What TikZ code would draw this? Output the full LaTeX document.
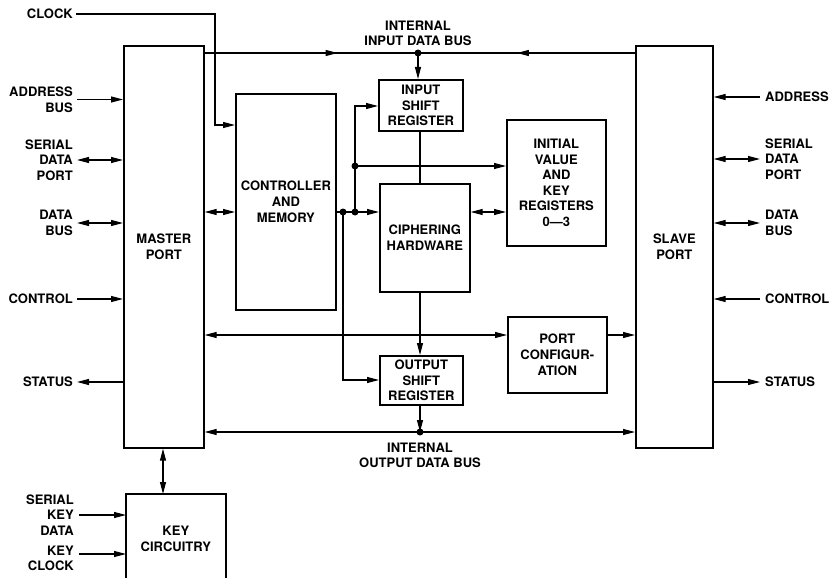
\documentclass[tikz,border=0pt]{standalone}
\usepackage{fontspec}
\setmainfont{TeX Gyre Heros}
\usetikzlibrary{arrows.meta,decorations.markings}
\tikzset{
  arr/.tip={Triangle[length=12pt,width=6pt]},
  box/.style={draw,line width=1.7pt,inner sep=0pt,anchor=north west,align=center,font=\fontsize{13}{15.6}\selectfont\bfseries},
  lbl/.style={inner sep=0pt,font=\fontsize{13}{15.6}\selectfont\bfseries},
  conn/.style={line width=1.1pt},
  dot/.style={circle,fill,inner sep=0pt,minimum size=7pt},
  midarr/.style={postaction={decorate},decoration={markings,mark=at position #1 with {\arrow{arr}}}}
}
\begin{document}
\begin{tikzpicture}[x=1pt,y=-1pt]
\useasboundingbox (0,0) rectangle (831,578);
% boxes
\node[box,minimum width=80pt,minimum height=402pt] (mp) at (123,45) {MASTER\\PORT};
\node[box,minimum width=77pt,minimum height=402pt] (sp) at (635,45) {SLAVE\\PORT};
\node[box,minimum width=100pt,minimum height=216pt] (cm) at (235,93) {CONTROLLER\\AND\\MEMORY};
\node[box,minimum width=84pt,minimum height=51pt] (isr) at (378,79) {INPUT\\SHIFT\\REGISTER};
\node[box,minimum width=99pt,minimum height=126pt] (iv) at (506,119) {INITIAL\\VALUE\\AND\\KEY\\REGISTERS\\0---3};
\node[box,minimum width=90pt,minimum height=108pt] (ch) at (379,183) {CIPHERING\\HARDWARE};
\node[box,minimum width=99pt,minimum height=76pt] (pc) at (507,316) {PORT\\CONFIGUR-\\ATION};
\node[box,minimum width=83pt,minimum height=49pt] (osr) at (379,355) {OUTPUT\\SHIFT\\REGISTER};
\node[box,draw=none,minimum width=98pt,minimum height=88pt] (kc) at (126,494) {KEY\\CIRCUITRY};
\coordinate (kcb) at (0,578);
\draw[line width=1.7pt] (kc.west |- kcb) -- (kc.north west) -- (kc.north east) -- (kc.east |- kcb);
% labels
\node[lbl,anchor=east] (clk) at (73,14) {CLOCK};
\node[lbl,anchor=east,align=right] (ab) at (73,99.5) {ADDRESS\\BUS};
\node[lbl,anchor=east,align=right] (sdp) at (73,160) {SERIAL\\DATA\\PORT};
\node[lbl,anchor=east,align=right] (db) at (73,223) {DATA\\BUS};
\node[lbl,anchor=east] (ctl) at (73,299) {CONTROL};
\node[lbl,anchor=east] (st) at (73,382) {STATUS};
\node[lbl,anchor=east,align=right] (skd) at (74,515) {SERIAL\\KEY\\DATA};
\node[lbl,anchor=east,align=right] (kck) at (74,558.5) {KEY\\CLOCK};
\node[lbl,anchor=west] (ra) at (765,97) {ADDRESS};
\node[lbl,anchor=west,align=left] (rsdp) at (765,159) {SERIAL\\DATA\\PORT};
\node[lbl,anchor=west,align=left] (rdb) at (765,223) {DATA\\BUS};
\node[lbl,anchor=west] (rctl) at (765,299) {CONTROL};
\node[lbl,anchor=west] (rst) at (765,382) {STATUS};
\node[lbl,align=center] (ibl) at (418,33.5) {INTERNAL\\INPUT DATA BUS};
\node[lbl,align=center] (obl) at (420,455.5) {INTERNAL\\OUTPUT DATA BUS};
% coordinates
\coordinate (ib) at (418,53);
\coordinate (ob) at (420,432);
\coordinate (col) at (420,0);
\coordinate (ckt) at (215,125);
\coordinate (r1) at (0,212);
\coordinate (r2) at (0,335);
\coordinate (d1) at (343,212);
\coordinate (d2) at (355,212);
\coordinate (d3) at (355,166);
\coordinate (u1) at (355,106);
\coordinate (l1) at (343,380);
\coordinate (kx) at (163,0);
\coordinate (kca) at (0,515);
\coordinate (kcc) at (0,554);
% input bus
\draw[conn,midarr=0.623] (mp.east |- ib) -- (ib);
\draw[conn,midarr=0.544] (sp.west |- ib) -- (ib);
\draw[conn,-arr] (ib) -- (ib |- isr.north);
\node[dot] (ibd) at (ib) {};
% clock
\draw[conn,-arr] ([xshift=3pt]clk.east) -| (ckt) -- (cm.west |- ckt);
% controller connections
\draw[conn,arr-arr] (mp.east |- r1) -- (cm.west |- r1);
\draw[conn,-arr] (cm.east |- r1) -- (ch.west |- r1);
\draw[conn,-arr] (d2) -- (u1) -- (isr.west |- u1);
\draw[conn,-arr] (d3) -- (iv.west |- d3);
\draw[conn,-arr] (d1) -- (l1) -- (osr.west |- l1);
\node[dot] (d1n) at (d1) {};
\node[dot] (d2n) at (d2) {};
\node[dot] (d3n) at (d3) {};
% cipher connections
\draw[conn] (col |- isr.south) -- (col |- ch.north);
\draw[conn,arr-arr] (ch.east |- r1) -- (iv.west |- r1);
\draw[conn,-arr] (col |- ch.south) -- (col |- osr.north);
% port config row
\draw[conn,arr-arr] (mp.east |- r2) -- (pc.west |- r2);
\draw[conn,-arr] (pc.east |- r2) -- (sp.west |- r2);
% output bus
\draw[conn,-arr] (col |- osr.south) -- (ob);
\draw[conn,arr-arr] (mp.east |- ob) -- (sp.west |- ob);
\node[dot] (obd) at (ob) {};
% key circuitry
\draw[conn,arr-arr] (kx |- mp.south) -- (kx |- kc.north);
\draw[conn,-arr] ([xshift=5pt]skd.east |- kca) -- (kc.west |- kca);
\draw[conn,-arr] ([xshift=5pt]kck.east |- kcc) -- (kc.west |- kcc);
% left side
\draw[conn,-arr] ([xshift=4pt]ab.east) -- (ab.east -| mp.west);
\draw[conn,arr-arr] ([xshift=4pt]sdp.east) -- (sdp.east -| mp.west);
\draw[conn,arr-arr] ([xshift=4pt]db.east) -- (db.east -| mp.west);
\draw[conn,-arr] ([xshift=4pt]ctl.east) -- (ctl.east -| mp.west);
\draw[conn,arr-] ([xshift=4pt]st.east) -- (st.east -| mp.west);
% right side
\draw[conn,-arr] ([xshift=-5pt]ra.west) -- (ra.west -| sp.east);
\draw[conn,arr-arr] ([xshift=-5pt]rsdp.west) -- (rsdp.west -| sp.east);
\draw[conn,arr-arr] ([xshift=-5pt]rdb.west) -- (rdb.west -| sp.east);
\draw[conn,-arr] ([xshift=-5pt]rctl.west) -- (rctl.west -| sp.east);
\draw[conn,arr-] ([xshift=-5pt]rst.west) -- (rst.west -| sp.east);
\end{tikzpicture}
\end{document}
